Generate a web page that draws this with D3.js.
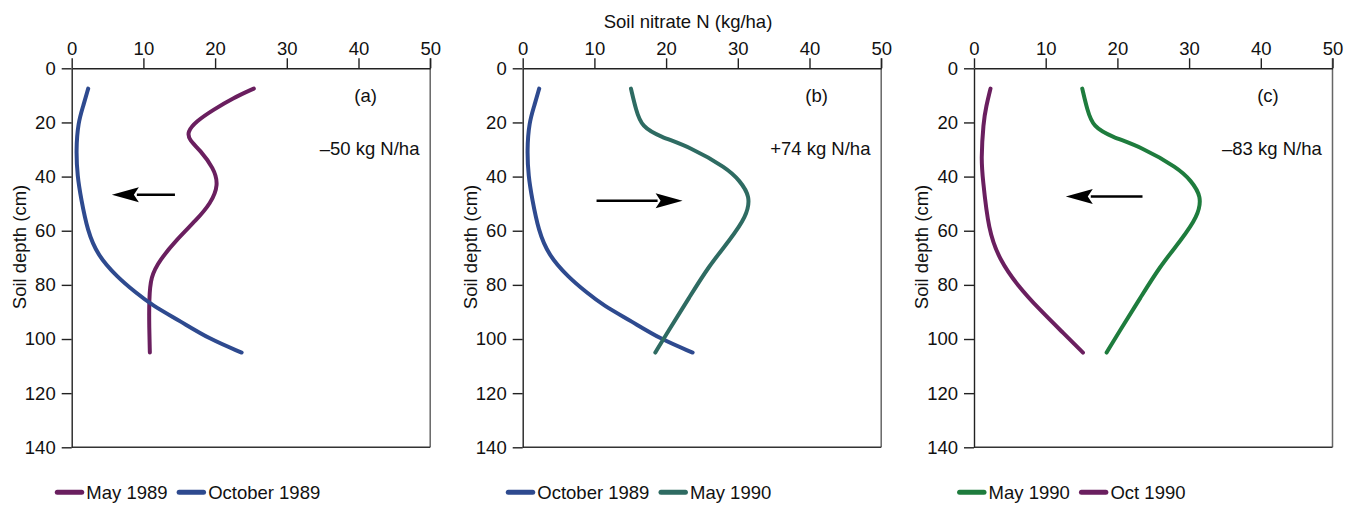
<!DOCTYPE html>
<html>
<head>
<meta charset="utf-8">
<script src="https://cdn.jsdelivr.net/npm/d3@7"></script>
<style>
  body { margin: 0; background: #fff; }
  svg text { font-family: "Liberation Sans", Arial, sans-serif; font-size: 18.5px; fill: #111; }
</style>
</head>
<body>
<svg id="chart" width="1349" height="505"></svg>
<script>
// data: [nitrate N kg/ha, depth cm]
var nitrateTicks = [0, 10, 20, 30, 40, 50];
var depthTicks = [0, 20, 40, 60, 80, 100, 120, 140];

var may1989 = [[25.4,7.5],[22.5,11],[19.7,15.4],[17.4,19.5],[16.1,23.5],[16.4,26.5],[17.9,30.2],[19.8,36.9],[20.5,43],[19.4,49.9],[17.4,56],[14.6,63.4],[12.3,70.8],[11.0,77],[10.8,85.6],[10.8,95],[10.9,105]];
var oct1989 = [[2.3,7.5],[1.6,14],[0.9,20],[0.6,30],[0.8,40],[1.3,48],[2.2,60],[3.6,69],[6.3,77],[9.0,83],[11.2,87.5],[15.2,93.5],[19.2,100],[23.7,105]];
var may1990 = [[15.1,7.5],[15.8,15.4],[16.6,21.6],[19.2,25.3],[23.3,29],[28.5,36.9],[30.2,41.3],[31.8,47.4],[31.2,54.8],[28.9,63.4],[25.9,73.3],[23.3,84.4],[20.1,97.9],[18.5,105]];
var oct1990 = [[2.3,7.5],[1.7,14],[1.3,20],[1.0,34],[1.2,40],[2.0,60],[3.6,70.8],[6.0,80],[9.2,89.3],[12.5,97.9],[15.2,105]];

var panelTags = ["(a)", "(b)", "(c)"];
var changeLabels = ["\u201350 kg N/ha", "+74 kg N/ha", "\u201383 kg N/ha"];
// arrows: [from nitrate, to nitrate, depth]
var arrows = [[14.4, 5.6, 46.7], [10.3, 22.3, 48.9], [23.5, 12.8, 47.4]];

var colors = { may1989: "#6a1f5f", oct1989: "#2e4a8f", may1990t: "#2e6b62", may1990g: "#1e7c3d", oct1990: "#6a1f5f" };

var panels = [
  { left: 71.7, series: [{ name: "May 1989", data: may1989, color: colors.may1989 }, { name: "October 1989", data: oct1989, color: colors.oct1989 }] },
  { left: 522.7, series: [{ name: "October 1989", data: oct1989, color: colors.oct1989 }, { name: "May 1990", data: may1990, color: colors.may1990t }] },
  { left: 974, series: [{ name: "May 1990", data: may1990, color: colors.may1990g }, { name: "Oct 1990", data: oct1990, color: colors.oct1990 }] }
];

var plotTop = 68.3, plotW = 358.5, plotH = 379;
var svg = d3.select("#chart");

var x = d3.scaleLinear().domain([0, 50]).range([0, plotW]);
var y = d3.scaleLinear().domain([0, 140]).range([0, plotH]);

var line = d3.line()
  .x(function (d) { return x(d[0]); })
  .y(function (d) { return y(d[1]); })
  .curve(d3.curveBasis);

svg.append("text")
  .attr("x", 688).attr("y", 28)
  .attr("text-anchor", "middle")
  .text("Soil nitrate N (kg/ha)");

panels.forEach(function (p, i) {
  var g = svg.append("g").attr("transform", "translate(" + p.left + "," + plotTop + ")");

  // frame: right and bottom borders
  g.append("line").attr("x1", plotW).attr("x2", plotW).attr("y1", -10).attr("y2", plotH)
    .attr("stroke", "#666").attr("stroke-width", 1.5);
  g.append("line").attr("x1", 0).attr("x2", plotW).attr("y1", plotH).attr("y2", plotH)
    .attr("stroke", "#333").attr("stroke-width", 1.5);

  var xa = g.append("g")
    .call(d3.axisTop(x).tickValues(nitrateTicks).tickSize(10).tickSizeOuter(0).tickPadding(3));
  var ya = g.append("g")
    .call(d3.axisLeft(y).tickValues(depthTicks).tickSize(10).tickSizeOuter(0).tickPadding(6));
  [xa, ya].forEach(function (a) {
    a.attr("font-size", null).attr("font-family", null);
    a.selectAll("path, line").attr("stroke", "#222").attr("stroke-width", 1.4);
    a.selectAll("text").attr("fill", "#111");
  });

  g.append("text")
    .attr("transform", "translate(-46," + (247 - plotTop) + ") rotate(-90)")
    .attr("text-anchor", "middle")
    .text("Soil depth (cm)");

  p.series.forEach(function (s) {
    g.append("path")
      .attr("d", line(s.data))
      .attr("fill", "none")
      .attr("stroke", s.color)
      .attr("stroke-width", 4)
      .attr("stroke-linecap", "round")
      .attr("stroke-linejoin", "round");
  });

  g.append("text").attr("x", x(41)).attr("y", y(12.4)).attr("text-anchor", "middle").text(panelTags[i]);
  g.append("text").attr("x", x(48.5)).attr("y", y(32)).attr("text-anchor", "end").text(changeLabels[i]);

  // arrow
  var a = arrows[i];
  var x0 = x(a[0]), x1 = x(a[1]), ay = y(a[2]);
  var dir = x1 > x0 ? 1 : -1, headL = 27, headH = 7.5;
  g.append("line").attr("x1", x0).attr("x2", x1 - dir * headL + dir * 2).attr("y1", ay).attr("y2", ay)
    .attr("stroke", "#000").attr("stroke-width", 2.5);
  g.append("path")
    .attr("d", "M" + x1 + "," + ay + "L" + (x1 - dir * headL) + "," + (ay - headH) +
      "L" + (x1 - dir * (headL - 5)) + "," + ay + "L" + (x1 - dir * headL) + "," + (ay + headH) + "Z")
    .attr("fill", "#000");

  // legend
  var lg = svg.append("g").attr("transform", "translate(" + p.left + ",492.3)");
  var cx = -14.4;
  p.series.forEach(function (s) {
    lg.append("line").attr("x1", cx).attr("x2", cx + 24.4).attr("y1", 0).attr("y2", 0)
      .attr("stroke", s.color).attr("stroke-width", 5).attr("stroke-linecap", "round");
    var t = lg.append("text").attr("x", cx + 29).attr("y", 7).text(s.name);
    cx = cx + 29 + t.node().getComputedTextLength() + 11.6;
  });
});
</script>
</body>
</html>
